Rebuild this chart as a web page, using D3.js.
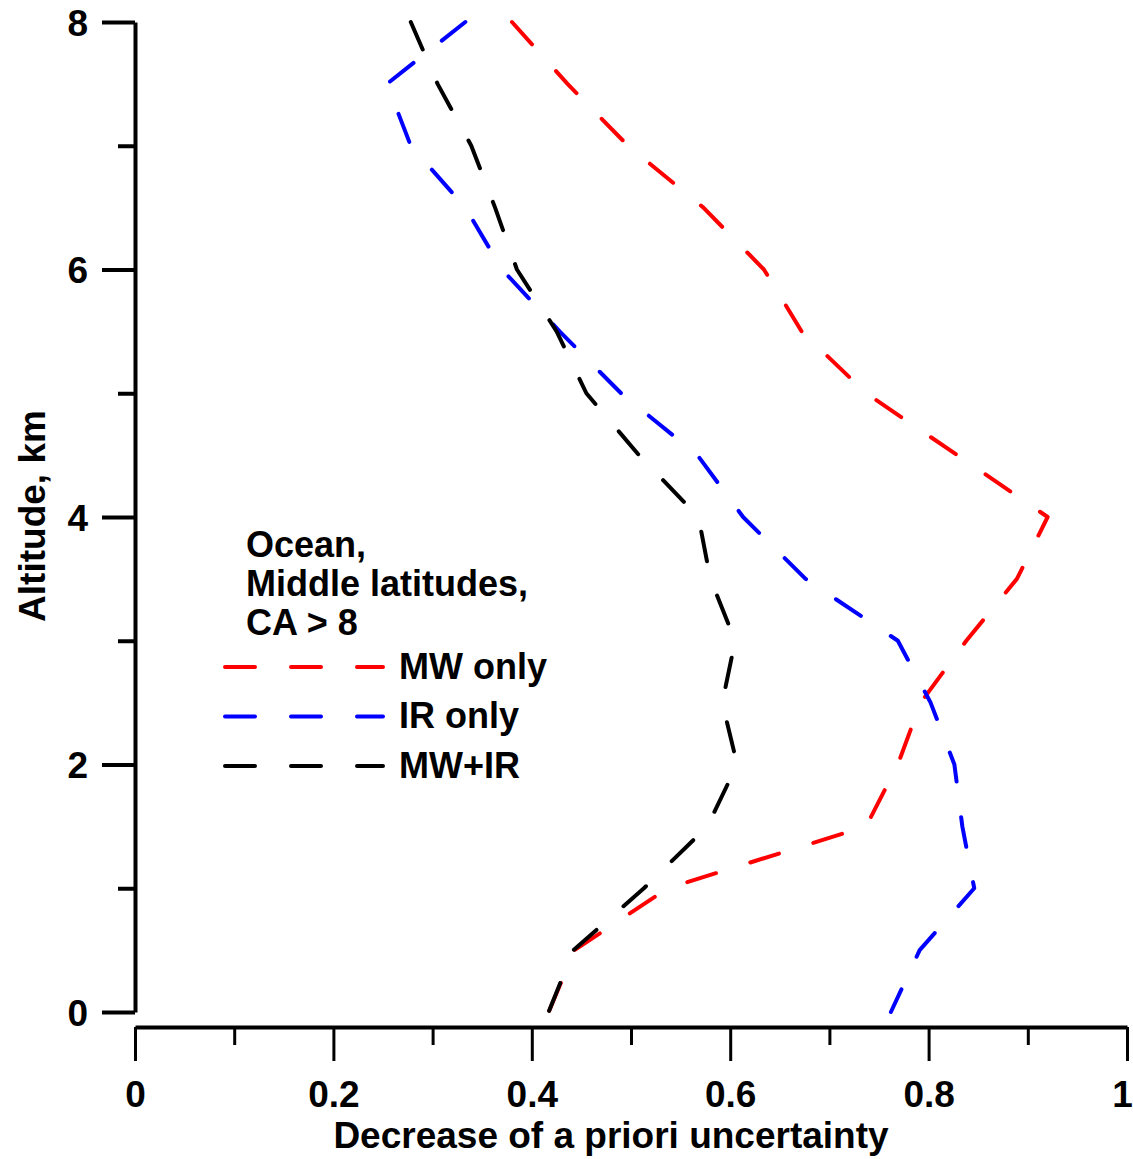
<!DOCTYPE html>
<html>
<head>
<meta charset="utf-8">
<script src="https://cdn.jsdelivr.net/npm/d3@7/dist/d3.min.js"></script>
<style>
  html, body { margin: 0; padding: 0; background: #fff; }
  svg { display: block; }
  text { font-family: "Liberation Sans", Arial, sans-serif; font-weight: bold; fill: #000; }
</style>
</head>
<body>
<svg id="chart" width="1133" height="1159"></svg>
<script>
// Altitude levels (km) and decrease of a priori uncertainty for each retrieval setup
const altitudes = [0, 0.5, 1, 1.5, 2, 2.5, 3, 3.5, 4, 4.5, 5, 5.5, 6, 6.5, 7, 7.5, 8];
const mwOnly  = [0.417, 0.443, 0.537, 0.737, 0.769, 0.792, 0.838, 0.889, 0.920, 0.829, 0.737, 0.672, 0.634, 0.573, 0.497, 0.436, 0.380];
const irOnly  = [0.762, 0.791, 0.846, 0.834, 0.826, 0.802, 0.769, 0.676, 0.613, 0.567, 0.490, 0.428, 0.370, 0.333, 0.278, 0.254, 0.333];
const mwPlusIr = [0.417, 0.442, 0.513, 0.577, 0.607, 0.592, 0.605, 0.580, 0.568, 0.508, 0.455, 0.425, 0.385, 0.363, 0.339, 0.305, 0.278];

const seriesNames = ["MW only", "IR only", "MW+IR"];
const seriesColors = ["#ff0000", "#0000ff", "#000000"];
const seriesValues = [mwOnly, irOnly, mwPlusIr];

const xMajorTicks = [0, 0.2, 0.4, 0.6, 0.8, 1];
const xMinorTicks = [0.1, 0.3, 0.5, 0.7, 0.9];
const yMajorTicks = [0, 2, 4, 6, 8];
const yMinorTicks = [1, 3, 5, 7];

const noteLines = ["Ocean,", "Middle latitudes,", "CA > 8"];
const xTitle = "Decrease of a priori uncertainty";
const yTitle = "Altitude, km";

const svg = d3.select("#chart");

const x = d3.scaleLinear().domain([0, 1]).range([135, 1127]);
const y = d3.scaleLinear().domain([0, 8]).range([1012, 22]);

const dash = "30 36";

// ---- Y axis (major ticks with labels, minor ticks without) ----
const yAxisX = 135;
const gy = svg.append("g").attr("transform", `translate(${yAxisX},0)`);
gy.call(d3.axisLeft(y).tickValues(yMajorTicks).tickSize(33).tickSizeOuter(0).tickPadding(14).tickFormat(d3.format("d")));
const gyMinor = svg.append("g").attr("transform", `translate(${yAxisX},0)`);
gyMinor.call(d3.axisLeft(y).tickValues(yMinorTicks).tickSize(17).tickSizeOuter(0).tickFormat(""));
gyMinor.select(".domain").remove();
[gy, gyMinor].forEach(g => {
  g.select(".domain").attr("stroke", "#000").attr("stroke-width", 4);
  g.selectAll(".tick line").attr("stroke", "#000").attr("stroke-width", 4);
});
gy.selectAll(".tick text")
  .attr("font-size", 37)
  .attr("dy", "0.36em");

// ---- X axis, drawn slightly below the lowest altitude ----
const xAxisY = 1027;
const gx = svg.append("g").attr("transform", `translate(0,${xAxisY})`);
gx.call(d3.axisBottom(x).tickValues(xMajorTicks).tickSize(34).tickSizeOuter(0).tickPadding(20)
  .tickFormat(d => d === 0 || d === 1 ? d3.format("d")(d) : d3.format(".1f")(d)));
const gxMinor = svg.append("g").attr("transform", `translate(0,${xAxisY})`);
gxMinor.call(d3.axisBottom(x).tickValues(xMinorTicks).tickSize(18).tickSizeOuter(0).tickFormat(""));
gxMinor.select(".domain").remove();
[gx, gxMinor].forEach(g => {
  g.select(".domain").attr("stroke", "#000").attr("stroke-width", 4);
  g.selectAll(".tick line").attr("stroke", "#000").attr("stroke-width", 3);
});
gx.selectAll(".tick text").attr("font-size", 37).attr("dy", "0.71em");
// keep the last label inside the page edge
gx.selectAll(".tick text").filter(d => d === 1).attr("dx", -5);

// ---- Axis titles ----
svg.append("text")
  .attr("x", (x(0) + x(1)) / 2 - 20)
  .attr("y", 1148)
  .attr("text-anchor", "middle")
  .attr("font-size", 37)
  .text(xTitle);

svg.append("text")
  .attr("transform", `translate(45,${516}) rotate(-90)`)
  .attr("text-anchor", "middle")
  .attr("font-size", 37)
  .text(yTitle);

// ---- Profiles (drawn from the top altitude downward) ----
const line = d3.line()
  .x(d => x(d.v))
  .y(d => y(d.a));

seriesValues.forEach((vals, i) => {
  const pts = altitudes.map((a, k) => ({ a, v: vals[k] })).reverse();
  svg.append("path")
    .datum(pts)
    .attr("d", line)
    .attr("fill", "none")
    .attr("stroke", seriesColors[i])
    .attr("stroke-width", 4)
    .attr("stroke-linecap", "round")
    .attr("stroke-linejoin", "round")
    .attr("stroke-dasharray", dash);
});

// ---- Legend block ----
const note = svg.append("g");
noteLines.forEach((t, i) => {
  note.append("text")
    .attr("x", 246)
    .attr("y", 557 + i * 39)
    .attr("font-size", 36)
    .text(t);
});

const legend = svg.append("g");
seriesNames.forEach((name, i) => {
  const ly = 667 + i * 49.5;
  legend.append("line")
    .attr("x1", 225).attr("x2", 383)
    .attr("y1", ly).attr("y2", ly)
    .attr("stroke", seriesColors[i])
    .attr("stroke-width", 4)
    .attr("stroke-linecap", "round")
    .attr("stroke-dasharray", dash);
  legend.append("text")
    .attr("x", 399)
    .attr("y", ly + 11.5)
    .attr("font-size", 36)
    .text(name);
});
</script>
</body>
</html>
